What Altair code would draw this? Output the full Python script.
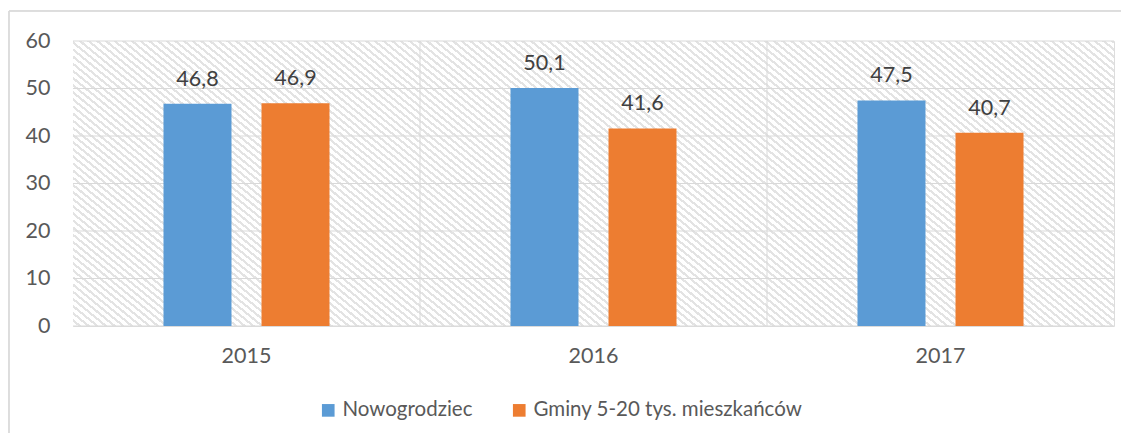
import altair as alt
import pandas as pd

years = ["2015", "2016", "2017"]
series_names = ["Nowogrodziec", "Gminy 5-20 tys. mieszkańców"]
nowogrodziec = [46.8, 50.1, 47.5]
gminy = [46.9, 41.6, 40.7]
y_ticks = [0, 10, 20, 30, 40, 50, 60]
colors = ["#5B9BD5", "#ED7D31"]

rows = []
for i, yr in enumerate(years):
    rows.append({"year": yr, "series": series_names[0], "value": nowogrodziec[i]})
    rows.append({"year": yr, "series": series_names[1], "value": gminy[i]})
df = pd.DataFrame(rows)
years_df = pd.DataFrame({"year": years})
sep_df = pd.DataFrame({"year": years[1:]})
grid_df = pd.DataFrame({"tick": y_ticks})

W, H = 1041, 285
TXT = "#595959"
LINE = "#d9d9d9"
FONT = "Lato"
FS = 21.5

# diagonal hatch via striped linear gradient
N = 80
stops = []
for k in range(N):
    a = k / N
    m = (k + 0.6) / N
    b = (k + 1) / N
    stops += [
        {"offset": a, "color": "#ffffff"},
        {"offset": m, "color": "#ffffff"},
        {"offset": m, "color": "#e3e3e3"},
        {"offset": b, "color": "#e3e3e3"},
    ]
hatch = alt.LinearGradient(gradient="linear", x1=0, y1=1, x2=1, y2=0, stops=stops)

xscale = alt.Scale(domain=years, paddingInner=0, paddingOuter=0)
yscale = alt.Scale(domain=[0, 60], nice=False)

xenc = alt.X("year:N", scale=xscale,
             axis=alt.Axis(title=None, labelAngle=0, domain=False, ticks=False,
                           labelPadding=19, labelFontSize=FS, labelColor=TXT,
                           labelFont=FONT))

bg = alt.Chart(years_df).mark_rect(fill=hatch, strokeWidth=0).encode(
    x=xenc, y=alt.value(0), y2=alt.value(H)
)

seps = alt.Chart(sep_df).mark_rule(color=LINE, strokeWidth=1).encode(
    x=alt.X("year:N", scale=xscale, bandPosition=0), y=alt.value(0), y2=alt.value(H)
)

grid = alt.Chart(grid_df).mark_rule(color=LINE, strokeWidth=1).encode(
    y=alt.Y("tick:Q", scale=yscale,
            axis=alt.Axis(title=None, values=y_ticks, domain=False, ticks=False,
                          grid=False, labelPadding=23, labelFontSize=FS,
                          labelColor=TXT, labelFont=FONT)),
    x=alt.value(0), x2=alt.value(W)
)

offset_scale = alt.Scale(paddingInner=0.306, paddingOuter=0.923)

bars = alt.Chart(df).mark_bar(size=68).encode(
    x=alt.X("year:N", scale=xscale),
    xOffset=alt.XOffset("series:N", sort=series_names, scale=offset_scale),
    y=alt.Y("value:Q", scale=yscale),
    color=alt.Color("series:N", sort=series_names,
                    scale=alt.Scale(domain=series_names, range=colors),
                    legend=alt.Legend(title=None, orient="none", direction="horizontal",
                                      legendX=245, legendY=359, symbolType="square",
                                      symbolSize=160, symbolStrokeWidth=0,
                                      labelFontSize=20.5, labelColor=TXT, labelFont=FONT,
                                      labelOffset=4, columnPadding=36, labelLimit=0)),
)

labels = alt.Chart(df).transform_calculate(
    label="replace(format(datum.value, '.1f'), '.', ',')"
).mark_text(dy=-18, baseline="alphabetic", fontSize=FS, color="#404040", font=FONT).encode(
    x=alt.X("year:N", scale=xscale),
    xOffset=alt.XOffset("series:N", sort=series_names, scale=offset_scale),
    y=alt.Y("value:Q", scale=yscale),
    text="label:N",
)

border_top = alt.Chart(years_df).mark_rule(color=LINE, strokeWidth=1).encode(
    x=alt.value(-64), x2=alt.value(W + 7), y=alt.value(-30)
)
border_left = alt.Chart(years_df).mark_rule(color=LINE, strokeWidth=1).encode(
    x=alt.value(-64), y=alt.value(-30), y2=alt.value(H + 107)
)

chart = alt.layer(bg, seps, grid, bars, labels, border_top, border_left).properties(
    width=W, height=H,
    autosize=alt.AutoSizeParams(type="none"),
    padding={"left": 65, "top": 33, "right": 7, "bottom": 107},
).configure_view(stroke=LINE, strokeWidth=1).configure(background="white")

chart.save("out.html", embed_options={"renderer": "svg", "actions": False})
